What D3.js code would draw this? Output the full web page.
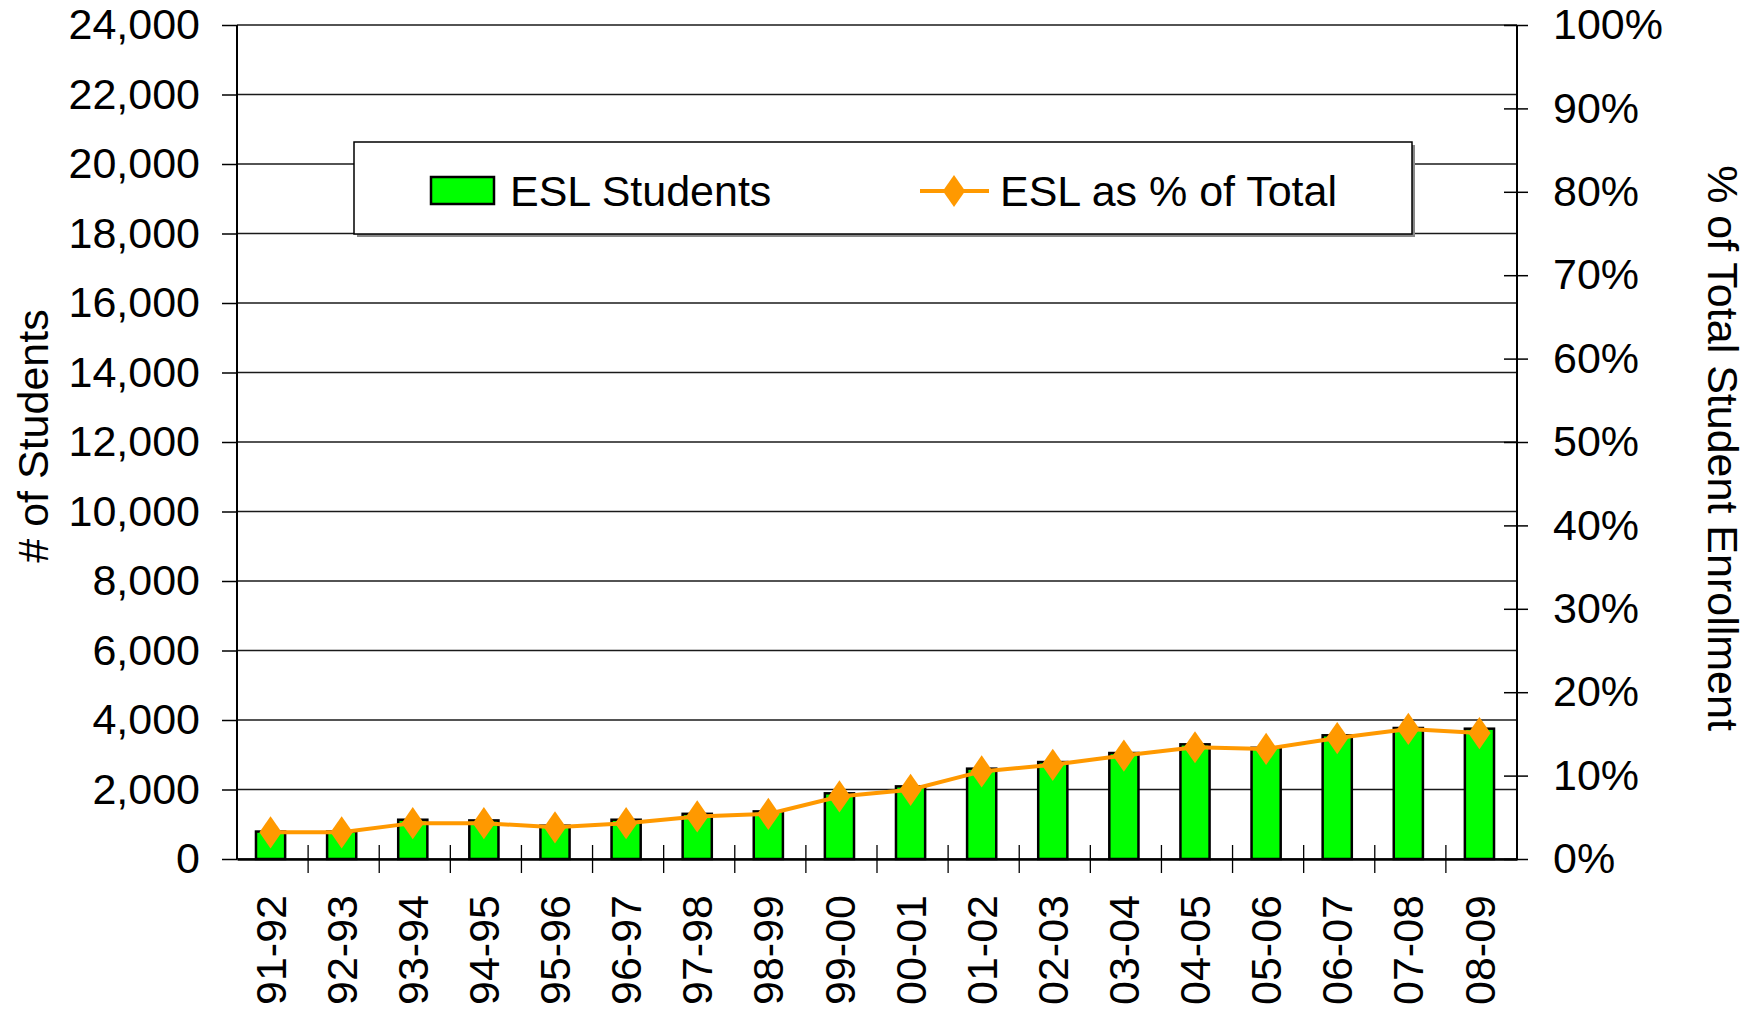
<!DOCTYPE html>
<html>
<head>
<meta charset="utf-8">
<script src="https://cdnjs.cloudflare.com/ajax/libs/d3/7.8.5/d3.min.js"></script>
<style>
body { margin: 0; background: #fff; }
text { font-family: "Liberation Sans", Arial, sans-serif; fill: #000; }
</style>
</head>
<body>
<svg id="chart" width="1754" height="1010"></svg>
<script>
var years = ["91-92","92-93","93-94","94-95","95-96","96-97","97-98","98-99","99-00",
             "00-01","01-02","02-03","03-04","04-05","05-06","06-07","07-08","08-09"];
var students = [790, 790, 1130, 1110, 960, 1130, 1300, 1370, 1890,
                2090, 2600, 2790, 3050, 3300, 3200, 3560, 3770, 3750];
var pctTotal = [3.2, 3.2, 4.3, 4.3, 3.8, 4.3, 5.1, 5.4, 7.5,
                8.3, 10.5, 11.3, 12.4, 13.4, 13.2, 14.5, 15.6, 15.1];
var countTicks = [0,2000,4000,6000,8000,10000,12000,14000,16000,18000,20000,22000,24000];
var pctTicks = [0,10,20,30,40,50,60,70,80,90,100];

var plotLeft = 237, plotRight = 1517, plotTop = 25, plotBottom = 859;
var fontSize = "43px";

var xScale = d3.scaleBand()
    .domain(years)
    .range([plotLeft, plotRight]);

var yScale = d3.scaleLinear()
    .domain([0, 24000])
    .range([plotBottom, plotTop]);

var pScale = d3.scaleLinear()
    .domain([0, 100])
    .range([plotBottom, plotTop]);

var svg = d3.select("#chart");

var drawGrid = function(){
    var grid = svg.append("g");
    grid.selectAll("line")
        .data(countTicks)
        .enter()
        .append("line")
        .attr("x1", plotLeft)
        .attr("x2", plotRight)
        .attr("y1", function(d) {return yScale(d);})
        .attr("y2", function(d) {return yScale(d);})
        .attr("stroke", "#1a1a1a")
        .attr("stroke-width", 1.5);
    // frame sides
    grid.append("line")
        .attr("x1", plotLeft).attr("x2", plotLeft)
        .attr("y1", plotTop).attr("y2", plotBottom)
        .attr("stroke", "#000").attr("stroke-width", 2);
    grid.append("line")
        .attr("x1", plotRight).attr("x2", plotRight)
        .attr("y1", plotTop).attr("y2", plotBottom)
        .attr("stroke", "#000").attr("stroke-width", 2);
};

var drawBars = function(){
    var bw = xScale.bandwidth() * 0.41;
    svg.append("g")
        .selectAll("rect")
        .data(students)
        .enter()
        .append("rect")
        .attr("x", function(d, i) {return xScale(years[i]) + xScale.bandwidth()/2 - bw/2 - 2;})
        .attr("y", function(d) {return yScale(d);})
        .attr("width", bw)
        .attr("height", function(d) {return plotBottom - yScale(d);})
        .attr("fill", "#00ff00")
        .attr("stroke", "#000")
        .attr("stroke-width", 2.5);
};

var drawLine = function(){
    var cx = function(i) {return xScale(years[i]) + xScale.bandwidth()/2 - 2;};
    var line = d3.line()
        .x(function(d, i) {return cx(i);})
        .y(function(d) {return pScale(d);});
    svg.append("path")
        .datum(pctTotal)
        .attr("d", line)
        .attr("fill", "none")
        .attr("stroke", "#ff9900")
        .attr("stroke-width", 4);
    svg.append("g")
        .selectAll("path")
        .data(pctTotal)
        .enter()
        .append("path")
        .attr("d", d3.symbol().type(d3.symbolDiamond).size(300))
        .attr("transform", function(d, i) {return "translate(" + cx(i) + "," + pScale(d) + ") scale(1.2,1)";})
        .attr("fill", "#ff9900");
};

var drawAxes = function(){
    var yAxis = d3.axisLeft(yScale)
        .tickValues(countTicks)
        .tickSize(15)
        .tickSizeOuter(0)
        .tickPadding(22)
        .tickFormat(d3.format(","));
    var ya = svg.append("g")
        .attr("transform", "translate(" + plotLeft + ",0)")
        .call(yAxis);
    ya.select(".domain").remove();

    var pAxis = d3.axisRight(pScale)
        .tickValues(pctTicks)
        .tickSize(11)
        .tickSizeOuter(0)
        .tickPadding(25)
        .tickFormat(function(d) {return d + "%";});
    var pa = svg.append("g")
        .attr("transform", "translate(" + plotRight + ",0)")
        .call(pAxis);
    pa.select(".domain").remove();
    pa.selectAll(".tick line").attr("x1", -13);

    var xAxis = d3.axisBottom(xScale)
        .tickSize(0)
        .tickSizeOuter(0);
    var xa = svg.append("g")
        .attr("transform", "translate(0," + plotBottom + ")")
        .call(xAxis);
    xa.select(".domain")
        .attr("stroke-width", 2.5);
    xa.selectAll("text")
        .attr("transform", "rotate(-90)")
        .attr("x", -36)
        .attr("y", -2)
        .attr("dy", "0.35em")
        .attr("text-anchor", "end");

    // category boundary ticks
    svg.append("g")
        .selectAll("line")
        .data(years.slice(1))
        .enter()
        .append("line")
        .attr("x1", function(d) {return xScale(d);})
        .attr("x2", function(d) {return xScale(d);})
        .attr("y1", plotBottom - 14)
        .attr("y2", plotBottom + 14)
        .attr("stroke", "#000")
        .attr("stroke-width", 1.3);

    svg.selectAll(".tick text").style("font-size", fontSize)
        .style("font-family", '"Liberation Sans", Arial, sans-serif');
    svg.selectAll(".tick line").attr("stroke", "#000").attr("stroke-width", 1.5);
};

var createLabels = function(){
    svg.append("text")
        .text("# of Students")
        .attr("text-anchor", "middle")
        .attr("transform", "translate(48,436) rotate(-90)")
        .style("font-size", fontSize);
    svg.append("text")
        .text("% of Total Student Enrollment")
        .attr("text-anchor", "middle")
        .attr("transform", "translate(1708,448) rotate(90)")
        .style("font-size", fontSize);
};

var drawLegend = function(){
    var lg = svg.append("g");
    lg.append("rect")
        .attr("x", 357).attr("y", 145)
        .attr("width", 1058).attr("height", 92)
        .attr("fill", "#888");
    lg.append("rect")
        .attr("x", 354).attr("y", 142)
        .attr("width", 1058).attr("height", 92)
        .attr("fill", "#fff")
        .attr("stroke", "#000")
        .attr("stroke-width", 1.5);
    lg.append("rect")
        .attr("x", 431).attr("y", 177)
        .attr("width", 63).attr("height", 27)
        .attr("fill", "#00ff00")
        .attr("stroke", "#000")
        .attr("stroke-width", 2.5);
    lg.append("text")
        .text("ESL Students")
        .attr("x", 510).attr("y", 206)
        .style("font-size", fontSize);
    lg.append("line")
        .attr("x1", 920).attr("x2", 989)
        .attr("y1", 191).attr("y2", 191)
        .attr("stroke", "#ff9900")
        .attr("stroke-width", 4);
    lg.append("path")
        .attr("d", d3.symbol().type(d3.symbolDiamond).size(300))
        .attr("transform", "translate(954,191) scale(1.2,1)")
        .attr("fill", "#ff9900");
    lg.append("text")
        .text("ESL as % of Total")
        .attr("x", 1000).attr("y", 206)
        .style("font-size", fontSize);
};

drawGrid();
drawBars();
drawLine();
drawAxes();
createLabels();
drawLegend();
</script>
</body>
</html>
